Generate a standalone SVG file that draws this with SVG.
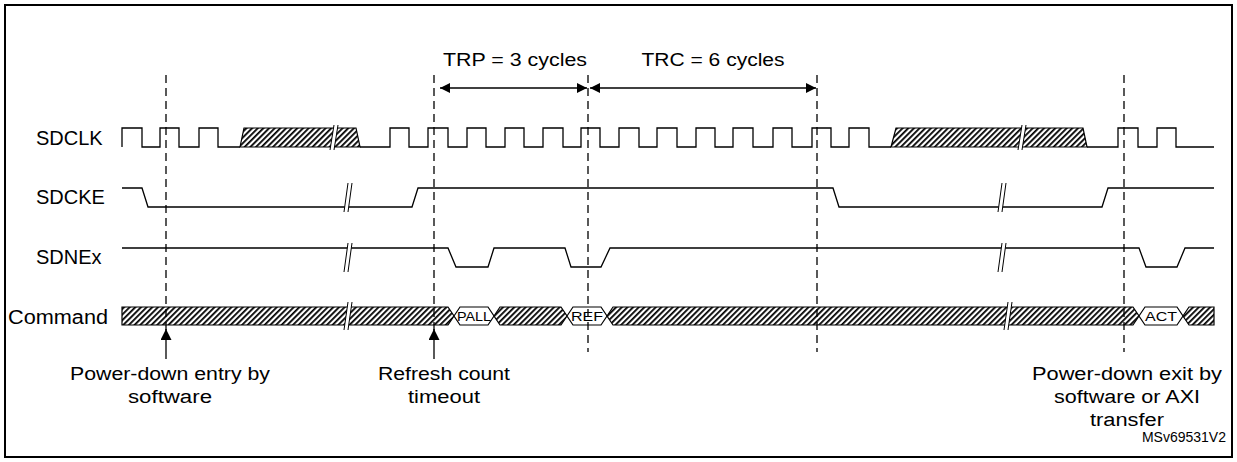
<svg xmlns="http://www.w3.org/2000/svg" width="1237" height="462" viewBox="0 0 1237 462">
<defs>
<pattern id="hatch" width="4" height="4" patternUnits="userSpaceOnUse" patternTransform="rotate(45)">
<rect width="4" height="4" fill="#fff"/><rect x="0" y="0" width="1.8" height="4" fill="#000"/>
</pattern>
<marker id="ah" viewBox="0 0 10 10" refX="10" refY="5" markerWidth="14" markerHeight="10" orient="auto-start-reverse" markerUnits="userSpaceOnUse"><path d="M0,0 L10,5 L0,10 Z" fill="#000"/></marker>
<marker id="au" viewBox="0 0 10 10" refX="10" refY="5" markerWidth="14" markerHeight="11" orient="auto" markerUnits="userSpaceOnUse"><path d="M0,0 L10,5 L0,10 Z" fill="#000"/></marker>
</defs>
<style>
.sig{fill:none;stroke:#000;stroke-width:1.3}
.hat{fill:url(#hatch);stroke:#000;stroke-width:1.2}
.box{fill:#fff;stroke:#000;stroke-width:1.2}
.dash{stroke:#000;stroke-width:1.3;stroke-dasharray:8,5;fill:none}
.sl{font-family:"Liberation Sans",Arial,sans-serif;font-size:20px;fill:#000}
.lbl{font-family:"Liberation Sans",Arial,sans-serif;font-size:18px;fill:#000}
.sm{font-family:"Liberation Sans",Arial,sans-serif;font-size:13px;fill:#000}
.id{font-family:"Liberation Sans",Arial,sans-serif;font-size:14px;fill:#000}
.brk{fill:#fff;stroke:none}
.brkl{stroke:#000;stroke-width:1;fill:none}
</style>
<rect x="5" y="5" width="1227" height="452" fill="#fff" stroke="#000" stroke-width="2"/>
<g id="labels">
<text class="sl" x="36" y="145">SDCLK</text>
<text class="sl" x="36" y="204">SDCKE</text>
<text class="sl" x="36" y="264">SDNEx</text>
<text class="sl" x="8" y="324" textLength="100" lengthAdjust="spacingAndGlyphs">Command</text>
</g>
<g id="sdclk">
<path class="sig" d="M122,147 V128 H142 V147 H160 V128 H179 V147 H199 V128 H218 V147 H240"/>
<polygon class="hat" points="240,147 244,128 356,128 360,147"/>
<path class="sig" d="M360,147 H390 V128 H409 V147 H428 V128 H448 V147 H467 V128 H486 V147 H505 V128 H524 V147 H543 V128 H563 V147 H581 V128 H600 V147 H619 V128 H639 V147 H657 V128 H677 V147 H696 V128 H715 V147 H733 V128 H753 V147 H773 V128 H792 V147 H812 V128 H831 V147 H849 V128 H869 V147 H891"/>
<polygon class="hat" points="891,147 896,128 1083,128 1087,147"/>
<path class="sig" d="M1087,147 H1118 V128 H1138 V147 H1157 V128 H1176 V147 H1214"/>
<polygon class="brk" points="330,150 334,125 338,125 334,150"/>
<path class="brkl" d="M330,150 L334,125 M334,150 L338,125"/>
<polygon class="brk" points="1018,150 1022,125 1026,125 1022,150"/>
<path class="brkl" d="M1018,150 L1022,125 M1022,150 L1026,125"/>
</g>
<g id="sdcke">
<path class="sig" d="M122,188 H142 L148,207 H412 L418,188 H833 L839,207 H1102 L1108,188 H1214"/>
<polygon class="brk" points="344,212 348,183 352,183 348,212"/>
<path class="brkl" d="M344,212 L348,183 M348,212 L352,183"/>
<polygon class="brk" points="998,212 1002,183 1006,183 1002,212"/>
<path class="brkl" d="M998,212 L1002,183 M1002,212 L1006,183"/>
</g>
<g id="sdnex">
<path class="sig" d="M122,248 H448 L456,267 H488 L494,248 H565 L571,267 H601 L610,248 H1139 L1146,267 H1177 L1185,248 H1214"/>
<polygon class="brk" points="344,272 348,243 352,243 348,272"/>
<path class="brkl" d="M344,272 L348,243 M348,272 L352,243"/>
<polygon class="brk" points="998,272 1002,243 1006,243 1002,272"/>
<path class="brkl" d="M998,272 L1002,243 M1002,272 L1006,243"/>
</g>
<g id="command">
<polygon class="hat" points="122,307 448,307 454,316 448,325 122,325"/>
<polygon class="box" points="454,316 460,307 488,307 494,316 488,325 460,325"/>
<text class="sm" x="457" y="321" textLength="34" lengthAdjust="spacingAndGlyphs">PALL</text>
<polygon class="hat" points="494,316 500,307 561,307 567,316 561,325 500,325"/>
<polygon class="box" points="567,316 573,307 601,307 607,316 601,325 573,325"/>
<text class="sm" x="571" y="321" textLength="32" lengthAdjust="spacingAndGlyphs">REF</text>
<polygon class="hat" points="607,316 613,307 1133,307 1139,316 1133,325 613,325"/>
<polygon class="box" points="1139,316 1145,307 1177,307 1183,316 1177,325 1145,325"/>
<text class="sm" x="1145" y="321" textLength="32" lengthAdjust="spacingAndGlyphs">ACT</text>
<polygon class="hat" points="1214,307 1189,307 1183,316 1189,325 1214,325"/>
<polygon class="brk" points="344,330 348,302 352,302 348,330"/>
<path class="brkl" d="M344,330 L348,302 M348,330 L352,302"/>
<polygon class="brk" points="1004,330 1008,302 1012,302 1008,330"/>
<path class="brkl" d="M1004,330 L1008,302 M1008,330 L1012,302"/>
</g>
<g id="connectors">
<line class="dash" x1="166" y1="75" x2="166" y2="330"/>
<line class="dash" x1="434" y1="75" x2="434" y2="330"/>
<line class="dash" x1="588" y1="75" x2="588" y2="352"/>
<line class="dash" x1="817" y1="75" x2="817" y2="352"/>
<line class="dash" x1="1124" y1="75" x2="1124" y2="352"/>
<line stroke="#000" stroke-width="1.3" x1="166" y1="359" x2="166" y2="329" marker-end="url(#au)"/>
<line stroke="#000" stroke-width="1.3" x1="434" y1="359" x2="434" y2="329" marker-end="url(#au)"/>
<line stroke="#000" stroke-width="1.3" x1="440" y1="88" x2="587" y2="88" marker-start="url(#ah)" marker-end="url(#ah)"/>
<line stroke="#000" stroke-width="1.3" x1="590" y1="88" x2="816" y2="88" marker-start="url(#ah)" marker-end="url(#ah)"/>
</g>
<g id="annotations">
<text class="lbl" x="515" y="66" text-anchor="middle" textLength="144" lengthAdjust="spacingAndGlyphs">TRP = 3 cycles</text>
<text class="lbl" x="713" y="66" text-anchor="middle" textLength="143" lengthAdjust="spacingAndGlyphs">TRC = 6 cycles</text>
<text class="lbl" x="170" y="380" text-anchor="middle" textLength="200" lengthAdjust="spacingAndGlyphs">Power-down entry by</text>
<text class="lbl" x="170" y="403" text-anchor="middle" textLength="84" lengthAdjust="spacingAndGlyphs">software</text>
<text class="lbl" x="444" y="380" text-anchor="middle" textLength="132" lengthAdjust="spacingAndGlyphs">Refresh count</text>
<text class="lbl" x="444" y="403" text-anchor="middle" textLength="72" lengthAdjust="spacingAndGlyphs">timeout</text>
<text class="lbl" x="1127" y="380" text-anchor="middle" textLength="190" lengthAdjust="spacingAndGlyphs">Power-down exit by</text>
<text class="lbl" x="1127" y="403" text-anchor="middle" textLength="146" lengthAdjust="spacingAndGlyphs">software or AXI</text>
<text class="lbl" x="1127" y="426" text-anchor="middle" textLength="74" lengthAdjust="spacingAndGlyphs">transfer</text>
<text class="id" x="1226" y="442" text-anchor="end">MSv69531V2</text>
</g>
</svg>
